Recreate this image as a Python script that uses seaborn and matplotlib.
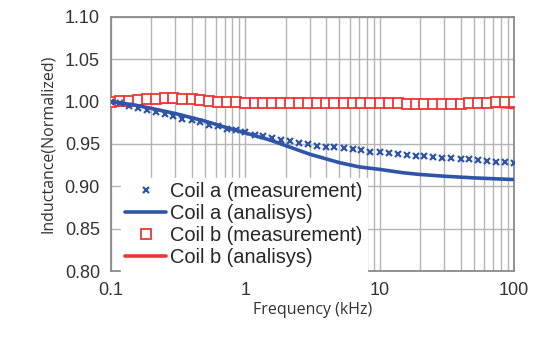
import matplotlib
matplotlib.use("Agg")
import matplotlib.pyplot as plt
import seaborn as sns
from matplotlib.ticker import FixedLocator, FixedFormatter, LogLocator, NullFormatter

# Measurement frequencies (kHz)
freq_meas = [0.1, 0.117, 0.136, 0.158, 0.185, 0.215, 0.25, 0.29, 0.34, 0.4, 0.46, 0.54, 0.63, 0.73, 0.85,
             1, 1.17, 1.36, 1.58, 1.85, 2.15, 2.5, 2.9, 3.4, 4, 4.6, 5.4, 6.3, 7.3, 8.5,
             10, 11.7, 13.6, 15.8, 18.5, 21.5, 25, 29, 34, 40, 46, 54, 63, 73, 85, 100]

coil_a_meas = [1.000, 0.998, 0.995, 0.993, 0.990, 0.988, 0.985, 0.983, 0.980, 0.978, 0.976, 0.973, 0.971, 0.968, 0.966,
               0.964, 0.961, 0.959, 0.957, 0.955, 0.953, 0.951, 0.950, 0.948, 0.947, 0.946, 0.945, 0.944, 0.943, 0.941,
               0.940, 0.939, 0.938, 0.937, 0.936, 0.936, 0.935, 0.934, 0.933, 0.932, 0.932, 0.931, 0.930, 0.929, 0.929, 0.928]

coil_b_meas = [1.000, 1.001, 1.001, 1.002, 1.003, 1.003, 1.004, 1.004, 1.003, 1.003, 1.002, 1.001, 1.000, 0.999, 0.999,
               0.998, 0.998, 0.998, 0.998, 0.998, 0.998, 0.998, 0.998, 0.998, 0.998, 0.998, 0.998, 0.998, 0.998, 0.998,
               0.998, 0.998, 0.998, 0.997, 0.997, 0.997, 0.997, 0.997, 0.997, 0.997, 0.998, 0.998, 0.998, 0.999, 0.999, 1.000]

# Analysis curves
freq_ana = [0.1, 0.15, 0.2, 0.3, 0.5, 0.7, 1, 1.5, 2, 3, 5, 7, 10, 15, 20, 30, 50, 70, 100]
coil_a_ana = [1.000, 0.996, 0.992, 0.986, 0.977, 0.970, 0.963, 0.955, 0.948, 0.938, 0.928, 0.923,
              0.920, 0.916, 0.914, 0.912, 0.910, 0.909, 0.908]
coil_b_ana = [1.000, 1.000, 1.000, 1.000, 0.999, 0.999, 0.999, 0.999, 0.999, 0.999, 0.999, 0.999,
              0.999, 0.999, 0.999, 0.998, 0.997, 0.995, 0.993]

xticks = [0.1, 1, 10, 100]
xtick_labels = ["0.1", "1", "10", "100"]
yticks = [0.80, 0.85, 0.90, 0.95, 1.00, 1.05, 1.10]

blue = "#2f55a8"
red = "#f03434"

sns.set_style("white")
plt.rcParams["font.family"] = ["Liberation Sans", "DejaVu Sans"]

fig, ax = plt.subplots(figsize=(5.39, 3.38), dpi=100)
fig.subplots_adjust(left=0.206, right=0.954, top=0.95, bottom=0.198)

sns.lineplot(x=freq_ana, y=coil_b_ana, color=red, linewidth=2.6, ax=ax, zorder=3)
sns.lineplot(x=freq_meas, y=coil_b_meas, color=red, linestyle="", marker="s", markersize=7,
             markerfacecolor="white", markeredgecolor=red, markeredgewidth=1.3, ax=ax, zorder=4)
sns.lineplot(x=freq_ana, y=coil_a_ana, color=blue, linewidth=2.6, ax=ax, zorder=5)
sns.lineplot(x=freq_meas, y=coil_a_meas, color=blue, linestyle="", marker="x", markersize=4.5,
             markeredgecolor=blue, markeredgewidth=1.6, ax=ax, zorder=6)

ax.set_xscale("log")
ax.set_xlim(0.1, 100)
ax.set_ylim(0.80, 1.10)
ax.xaxis.set_major_locator(FixedLocator(xticks))
ax.xaxis.set_major_formatter(FixedFormatter(xtick_labels))
ax.xaxis.set_minor_locator(LogLocator(base=10, subs=range(2, 10)))
ax.xaxis.set_minor_formatter(NullFormatter())
ax.set_yticks(yticks)
ax.set_yticklabels([f"{v:.2f}" for v in yticks])

ax.grid(True, which="both", axis="x", color="#b4b4b4", linewidth=1.0)
ax.grid(True, which="major", axis="y", color="#b4b4b4", linewidth=1.0)
ax.tick_params(axis="both", which="both", length=0, labelsize=13, colors="#333333", pad=8)
for s in ax.spines.values():
    s.set_color("#8a8a8a")
    s.set_linewidth(1.3)

ax.set_xlabel("Frequency (kHz)", fontsize=11.5, family=["Open Sans", "DejaVu Sans"], color="#333333", labelpad=2)
ax.set_ylabel("Inductance(Normalized)", fontsize=11.5, family=["Open Sans", "DejaVu Sans"], color="#333333", labelpad=6)

lines = ax.get_lines()
handles = [lines[3], lines[2], lines[1], lines[0]]
labels = ["Coil a (measurement)", "Coil a (analisys)", "Coil b (measurement)", "Coil b (analisys)"]
leg = ax.legend(handles, labels, loc="lower left", bbox_to_anchor=(0.025, 0.0), fontsize=14.4,
                frameon=True, framealpha=1, edgecolor="white", fancybox=False, borderpad=0.2,
                labelspacing=0.15, handlelength=2.05, handletextpad=0.2, borderaxespad=0.0)
leg.set_zorder(10)

fig.savefig("out.png", dpi=100)
